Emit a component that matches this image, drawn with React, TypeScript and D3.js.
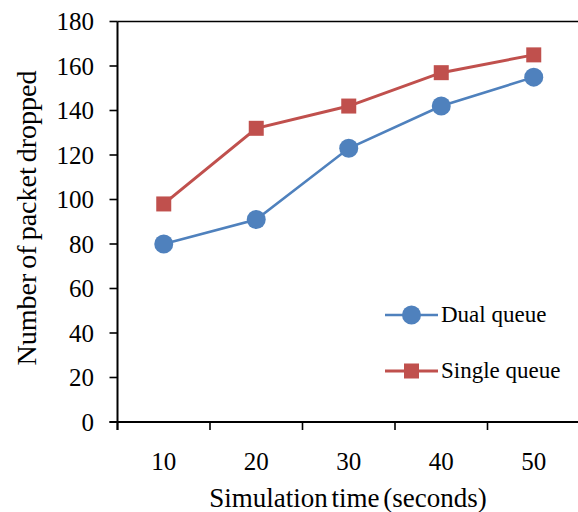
import React from "react";
import * as d3 from "d3";

const categories = [10, 20, 30, 40, 50];
const dualQueue = [80, 91, 123, 142, 155];
const singleQueue = [98, 132, 142, 157, 165];
const yTicks = [0, 20, 40, 60, 80, 100, 120, 140, 160, 180];

const W = 578;
const H = 512;
const FONT = "'Liberation Serif', 'Times New Roman', serif";
const BLUE = "#4F81BD";
const RED = "#C0504D";

export default function App() {
  const x = d3.scaleBand<number>().domain(categories).range([117.5, 580]).padding(0);
  const y = d3.scaleLinear().domain([0, 180]).range([422, 21.5]);
  const cx = (c: number) => (x(c) as number) + x.bandwidth() / 2;
  const line = d3
    .line<number>()
    .x((_, i) => cx(categories[i]))
    .y((d) => y(d));

  const x0 = 117.5;
  const y0 = y(0);
  const yTop = y(180);

  return (
    <svg
      width={W}
      height={H}
      style={{ position: "absolute", left: 0, top: 0, background: "#fff" }}
      fontFamily={FONT}
    >
      <rect width={W} height={H} fill="#fff" />
      <line x1={x0} x2={W} y1={yTop} y2={yTop} stroke="#000" strokeWidth={1.6} />
      <line x1={x0} x2={x0} y1={yTop} y2={y0 + 8} stroke="#000" strokeWidth={2} />
      {yTicks.map((t) => (
        <g key={t}>
          <line x1={x0 - 8} x2={x0} y1={y(t)} y2={y(t)} stroke="#000" strokeWidth={1.6} />
          <text x={94} y={y(t)} dy="0.35em" textAnchor="end" fontSize={25} fill="#000">
            {t}
          </text>
        </g>
      ))}
      <line x1={x0 - 8} x2={W} y1={y0} y2={y0} stroke="#000" strokeWidth={2} />
      {categories.map((c) => (
        <g key={c}>
          <line
            x1={x(c) as number}
            x2={x(c) as number}
            y1={y0}
            y2={y0 + 8}
            stroke="#000"
            strokeWidth={1.6}
          />
          <text x={cx(c)} y={470} textAnchor="middle" fontSize={25} fill="#000">
            {c}
          </text>
        </g>
      ))}
      <text x={348} y={507} textAnchor="middle" fontSize={27} fill="#000" wordSpacing={-3}>
        Simulation time (seconds)
      </text>
      <text
        transform={`translate(36,218) rotate(-90)`}
        textAnchor="middle"
        fontSize={28}
        fill="#000"
        wordSpacing={-2}
      >
        Number of packet dropped
      </text>

      <path d={line(dualQueue) || ""} fill="none" stroke={BLUE} strokeWidth={2.6} />
      {dualQueue.map((v, i) => (
        <circle key={i} cx={cx(categories[i])} cy={y(v)} r={9.5} fill={BLUE} />
      ))}
      <path d={line(singleQueue) || ""} fill="none" stroke={RED} strokeWidth={3} />
      {singleQueue.map((v, i) => (
        <rect
          key={i}
          x={cx(categories[i]) - 7.5}
          y={y(v) - 7.5}
          width={15}
          height={15}
          fill={RED}
        />
      ))}

      <g>
        <line x1={385} x2={438} y1={315} y2={315} stroke={BLUE} strokeWidth={2.6} />
        <circle cx={411.5} cy={315} r={9.5} fill={BLUE} />
        <text x={441} y={322} fontSize={23} fill="#000">
          Dual queue
        </text>
        <line x1={385} x2={438} y1={371} y2={371} stroke={RED} strokeWidth={3} />
        <rect x={404} y={363.5} width={15} height={15} fill={RED} />
        <text x={441} y={378} fontSize={23} fill="#000">
          Single queue
        </text>
      </g>
    </svg>
  );
}
